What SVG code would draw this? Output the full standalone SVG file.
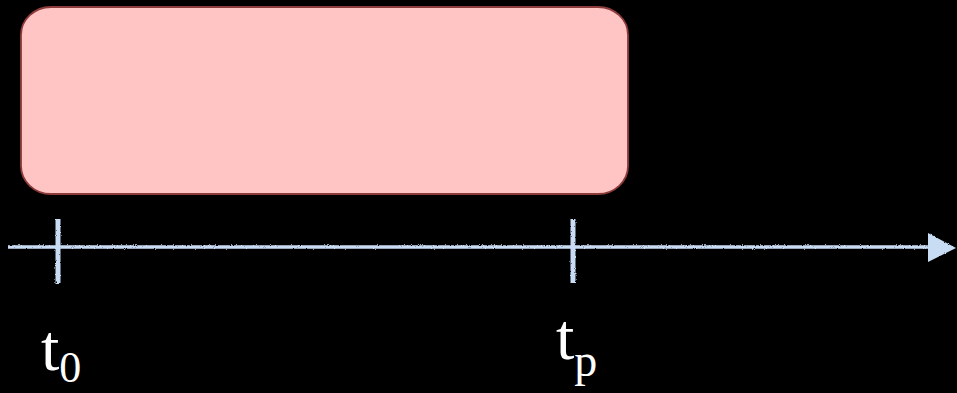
<svg xmlns="http://www.w3.org/2000/svg" width="957" height="393" viewBox="0 0 957 393">
  <defs>
    <style>
      .axis { stroke: #c8ddf4; stroke-width: 3.5; fill: none; stroke-linecap: butt; }
      .tick { stroke: #c8ddf4; stroke-width: 5; fill: none; }
      .lbl { font-family: "Liberation Serif", "Times New Roman", serif; fill: #ffffff; }
    </style>
    <filter id="chalk" x="-5%" y="-50%" width="110%" height="200%">
      <feTurbulence type="fractalNoise" baseFrequency="0.9" numOctaves="2" seed="3" result="n"/>
      <feDisplacementMap in="SourceGraphic" in2="n" scale="2.5" xChannelSelector="R" yChannelSelector="G"/>
    </filter>
  </defs>
  <rect width="957" height="393" fill="#000000"/>
  <g id="box">
    <rect x="21" y="7" width="607" height="187" rx="30" ry="28" fill="#ffc4c4" stroke="#8e3b3b" stroke-width="1.8"/>
  </g>
  <g id="connectors" filter="url(#chalk)">
    <line class="axis" x1="8" y1="247" x2="930" y2="247"/>
    <path d="M928,233 L956,248 L928,262 z" fill="#c8ddf4"/>
    <line class="tick" x1="58" y1="219" x2="58" y2="283"/>
    <line class="tick" x1="573" y1="219" x2="573" y2="283"/>
  </g>
  <g id="label-t0">
    <text class="lbl" x="41" y="370" font-size="66">t<tspan font-size="44" dy="12">0</tspan></text>
  </g>
  <g id="label-tp">
    <text class="lbl" x="556" y="359" font-size="66">t<tspan font-size="46" dy="17">p</tspan></text>
  </g>
</svg>
